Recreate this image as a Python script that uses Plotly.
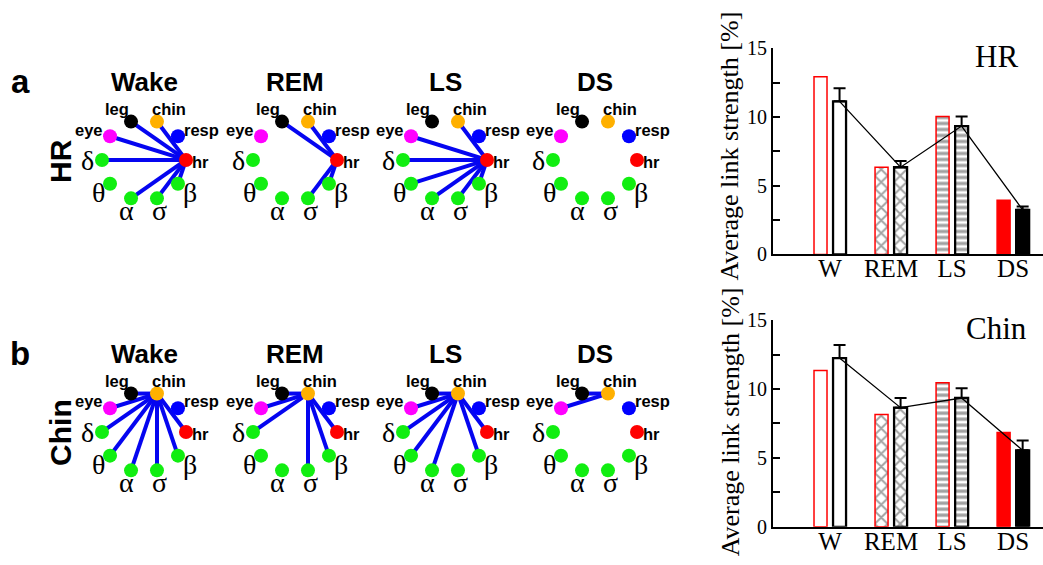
import numpy as np
import plotly.graph_objects as go

# ---------------- data ----------------
node_names = ["hr", "resp", "chin", "leg", "eye", "δ", "θ", "α", "σ", "β"]
node_colors = ["#FF0000", "#0000FF", "#FFB000", "#000000", "#FF00FF",
               "#11EE11", "#11EE11", "#11EE11", "#11EE11", "#11EE11"]
stages = ["Wake", "REM", "LS", "DS"]
row_names = ["HR", "Chin"]
row_letters = ["a", "b"]
row_hubs = ["hr", "chin"]
hr_links = [["leg", "chin", "eye", "δ", "α", "σ", "β"],
            ["leg", "chin", "σ", "β"],
            ["chin", "eye", "δ", "θ", "α", "σ", "β"],
            []]
chin_links = [["leg", "eye", "δ", "θ", "α", "σ", "β", "hr"],
              ["leg", "eye", "δ", "σ", "β", "hr"],
              ["leg", "eye", "δ", "θ", "α", "β", "hr"],
              ["leg", "eye"]]

categories = ["W", "REM", "LS", "DS"]
hr_red = [12.95, 6.35, 10.05, 3.95]
hr_black = [11.15, 6.35, 9.35, 3.25]
hr_err = [0.95, 0.45, 0.7, 0.25]
chin_red = [11.35, 8.15, 10.45, 6.85]
chin_black = [12.25, 8.65, 9.35, 5.55]
chin_err = [0.95, 0.7, 0.7, 0.72]

# ---------------- layout constants ----------------
W, H = 1043, 565
SERIF = "Liberation Serif"
SANS = "Liberation Sans"
panel_cx = [144, 295, 445, 595]
row_cy = [155, 438]
R = 42
label_off = {"leg": (-14, -13), "chin": (12, -13), "resp": (24, -7), "hr": (14, 2),
             "eye": (-21, -7), "δ": (-15, 1), "θ": (-12, 9), "α": (-5, 13),
             "σ": (3, 13), "β": (12, 9)}
greek = {"δ", "θ", "α", "σ", "β"}

fig = go.Figure()

angles = np.deg2rad(36 * np.arange(len(node_names)))


def node_pos(cx, cy):
    return {n: (cx + R * np.cos(a), cy - R * np.sin(a)) for n, a in zip(node_names, angles)}


annotations = []
links_rows = [hr_links, chin_links]
for r, (cy, hub, links) in enumerate(zip(row_cy, row_hubs, links_rows)):
    for p, cx in enumerate(panel_cx):
        pos = node_pos(cx, cy)
        ex, ey = [], []
        for tgt in links[p]:
            ex += [pos[hub][0], pos[tgt][0], None]
            ey += [pos[hub][1], pos[tgt][1], None]
        if ex:
            fig.add_trace(go.Scatter(x=ex, y=ey, mode="lines", xaxis="x3", yaxis="y3",
                                     line=dict(color="#0505F0", width=4),
                                     hoverinfo="skip", showlegend=False))
        fig.add_trace(go.Scatter(x=[pos[n][0] for n in node_names],
                                 y=[pos[n][1] for n in node_names],
                                 mode="markers", xaxis="x3", yaxis="y3",
                                 marker=dict(size=14, color=node_colors, line=dict(width=0)),
                                 hoverinfo="skip", showlegend=False))
        for n in node_names:
            dx, dy = label_off[n]
            if n in greek:
                font = dict(family=SERIF, size=28, color="black")
            else:
                font = dict(family=SANS, size=16.5, color="black", weight="bold")
            annotations.append(dict(x=pos[n][0] + dx, y=pos[n][1] + dy, xref="x3", yref="y3",
                                    text=n, showarrow=False, font=font,
                                    xanchor="center", yanchor="middle"))
        annotations.append(dict(x=cx, y=cy - 81, xref="x3", yref="y3", text=stages[p],
                                showarrow=False, xanchor="center", yanchor="middle",
                                font=dict(family=SANS, size=26, color="black", weight="bold")))
    annotations.append(dict(x=20, y=cy - 82, xref="x3", yref="y3", text=row_letters[r],
                            showarrow=False, xanchor="center", yanchor="middle",
                            font=dict(family=SANS, size=33, color="black", weight="bold")))
    annotations.append(dict(x=61, y=cy + 1, xref="x3", yref="y3", text=row_names[r],
                            showarrow=False, xanchor="center", yanchor="middle", textangle=-90,
                            font=dict(family=SANS, size=30, color="black", weight="bold")))

# ---------------- bar charts ----------------
xpos = np.arange(len(categories))
bw = 0.213
shapes_pat = ["", "x", "-", ""]
pat_size = [8, 9, 6, 8]
pat_solid = [0.2, 0.38, 0.55, 0.2]
for (red, black, err, xa, ya) in [(hr_red, hr_black, hr_err, "x", "y"),
                                  (chin_red, chin_black, chin_err, "x2", "y2")]:
    fig.add_trace(go.Bar(x=xpos, y=red, width=bw, offset=-0.262, xaxis=xa, yaxis=ya,
                         marker=dict(color=["white", "white", "white", "red"],
                                     line=dict(color="red", width=1.5),
                                     pattern=dict(shape=shapes_pat, fgcolor="red",
                                                  bgcolor=["white", "white", "white", "red"],
                                                  size=pat_size, solidity=pat_solid)),
                         showlegend=False, hoverinfo="skip"))
    fig.add_trace(go.Bar(x=xpos, y=black, width=bw, offset=0.05, xaxis=xa, yaxis=ya,
                         marker=dict(color=["white", "white", "white", "black"],
                                     line=dict(color="black", width=2.3),
                                     pattern=dict(shape=shapes_pat, fgcolor="black",
                                                  bgcolor=["white", "white", "white", "black"],
                                                  size=pat_size, solidity=pat_solid)),
                         error_y=dict(type="data", symmetric=False, array=err,
                                      arrayminus=[0] * len(err), color="black",
                                      thickness=2, width=6),
                         showlegend=False, hoverinfo="skip"))
    fig.add_trace(go.Scatter(x=xpos + 0.156, y=black, mode="lines", xaxis=xa, yaxis=ya,
                             line=dict(color="black", width=1.3),
                             showlegend=False, hoverinfo="skip"))

x0 = 773 / W
xr = [-0.934, 3.49]
ytick_vals = [0, 2.5, 5, 7.5, 10, 12.5, 15]
ytick_text = ["0", "", "5", "", "10", "", "15"]
xax = dict(domain=[x0, 1.0], range=xr, tickvals=list(xpos), ticktext=categories,
           showline=True, linecolor="black", linewidth=2, ticks="", showgrid=False,
           zeroline=False, ticklabelstandoff=-9,
           tickfont=dict(family=SERIF, size=25, color="black"))
yax = dict(range=[0, 15], tickvals=ytick_vals, ticktext=ytick_text, ticks="inside",
           ticklen=7, tickwidth=1.5, tickcolor="black", showline=True, linecolor="black",
           linewidth=2, showgrid=False, zeroline=False,
           tickfont=dict(family=SERIF, size=20, color="black"))

y_top = [1 - 253.3 / H, 1 - 39 / H]
y_bot = [1 - 536.7 / H, 1 - 321.7 / H]

for title, yc, ttl_y in [("HR", 141, 47), ("Chin", 428, 330)]:
    annotations.append(dict(x=730 / W, y=1 - yc / H, xref="paper", yref="paper",
                            text="Average link strength [%]", textangle=-90, showarrow=False,
                            xanchor="center", yanchor="middle",
                            font=dict(family=SERIF, size=26, color="black")))
    annotations.append(dict(x=996 / W, y=1 - ttl_y / H, xref="paper", yref="paper",
                            text=title, showarrow=False, xanchor="center", yanchor="middle",
                            font=dict(family=SERIF, size=31, color="black")))

fig.update_layout(
    width=W, height=H, margin=dict(l=0, r=0, t=0, b=0),
    paper_bgcolor="white", plot_bgcolor="rgba(0,0,0,0)",
    barmode="overlay",
    xaxis=dict(**xax, anchor="y"),
    yaxis=dict(**yax, domain=y_top, anchor="x"),
    xaxis2=dict(**xax, anchor="y2"),
    yaxis2=dict(**yax, domain=y_bot, anchor="x2"),
    xaxis3=dict(domain=[0, 1], range=[0, W], visible=False, anchor="y3", fixedrange=True),
    yaxis3=dict(domain=[0, 1], range=[H, 0], visible=False, anchor="x3", fixedrange=True),
    annotations=annotations,
    showlegend=False,
)

fig.write_html("out.html")
